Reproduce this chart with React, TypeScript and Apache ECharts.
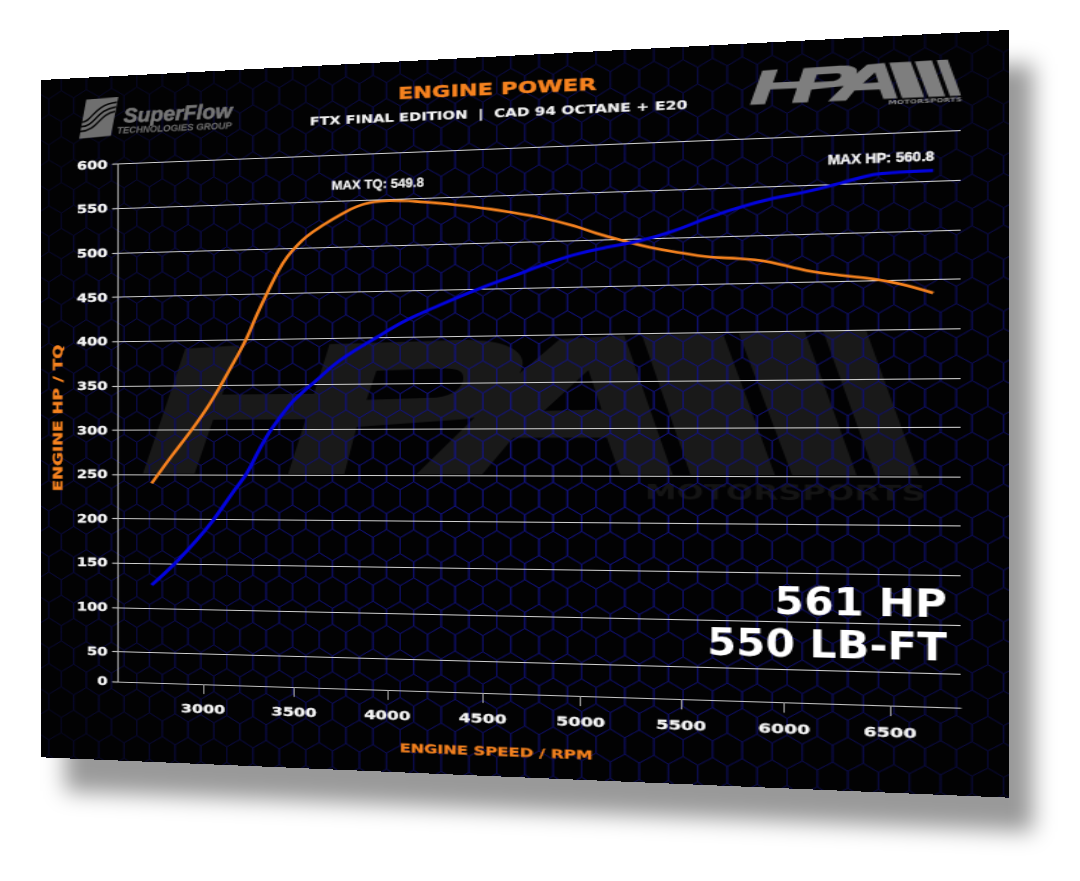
import React, { useEffect, useRef } from "react";
import * as echarts from "echarts";

const rpmTq = [2712,2825,2943,3021,3094,3168,3242,3297,3352,3415,3465,3515,3569,3659,3749,3838,3927,4015,4191,4366,4538,4658,4795,4963,5081,5214,5347,5495,5626,5788,5900,6028,6139,6266,6422,6547,6701];
const torque = [240.1,270.7,301.7,323.9,347.8,374,401.5,426.8,450,475,490.5,502,512,524.2,534.6,543.1,547.6,548.3,545.8,541.5,535.9,531.1,525.2,515.4,506.6,498,490.2,483.8,478.9,476,473,466.4,460.7,456.4,451.8,446.2,436.3];
const rpmHp = [2712,2834,2965,3057,3168,3242,3315,3379,3479,3545,3614,3749,3953,4104,4278,4486,4658,4795,4963,5131,5297,5462,5626,5788,5948,6108,6266,6422,6547,6701];
const power = [125.8,148.7,177,199.5,231.1,251.5,279.3,300.8,327.5,340.5,352.5,375.5,401,418.3,433.9,451,463.4,473.4,484.2,491.5,497.5,506.7,519,529.4,537.6,543.4,550.9,558.5,560.2,560.8];
const xTicks = [3000,3500,4000,4500,5000,5500,6000,6500];
const yTicks = [16.2,50,100,150,200,250,300,350,400,450,500,550,600];
const yTickLabels = ["0","50","100","150","200","250","300","350","400","450","500","550","600"];

const W = 700, H = 720;
// the sheet's corners on the page
const TL = [41, 80], TR = [1009, 30], BR = [1009, 797.7], BL = [41, 757.3];
const onePlusG = (BL[1] - TL[1]) / (BR[1] - TR[1]);
const g = onePlusG - 1;
const a = TR[0] * onePlusG - TL[0];
const d = TR[1] * onePlusG - TL[1];
const e = BL[1] - TL[1];
const matrix = [a / W, d / W, 0, g / W, 0, e / H, 0, 0, 0, 0, 1, 0, TL[0], TL[1], 0, 1];
const toSrc = (x: number, y: number) => {
  const s = (x - TL[0]) / (a - g * x);
  const w = 1 + g * s;
  return [s * W, ((y * w - TL[1] - d * s) / e) * H];
};

const LOGO_D =
  "M25 462L115 62L228 55L193 210L383 210L415 55L680 48C770 48 820 90 790 160C770 230 740 280 690 292L470 315L445 462L330 462L366 290L174 290L135 462Z" +
  "M510 140L490 230L630 225C670 220 690 180 680 150C675 138 660 135 640 135Z" +
  "M590 462L795 150L870 50L993 42L1084 462L985 462L960 350L780 350L720 462Z" +
  "M925 145L840 268L950 265Z" +
  "M1026 40L1177 40L1272 462L1117 462Z" +
  "M1206 40L1326 38L1419 462L1303 462Z" +
  "M1359 38L1436 38L1529 462L1452 462Z";
const SF_BOX = "M50 32L148 28L125 145L28 150Z";
const SF_LINES =
  "M36 100C70 100 70 50 144 44M34 114C78 114 80 64 141 58M31 128C86 128 88 78 138 72";

const hexPath = () => {
  const hw = 20.3, R = 16.2, pitch = R * 1.5;
  const [ax, ay] = toSrc(581.7, 335);
  let p = "";
  for (let r = -32; r < 34; r++) {
    const cy = ay + R + r * pitch;
    if (cy < -R * 2 || cy > H + R * 2) continue;
    const off = ((r % 2) + 2) % 2 ? hw / 2 : 0;
    for (let c = -40; c < 40; c++) {
      const cx = ax + c * hw + off;
      if (cx < -hw || cx > W + hw) continue;
      p += `M${cx.toFixed(1)} ${(cy - R).toFixed(1)}L${(cx + hw / 2).toFixed(1)} ${(cy - R / 2).toFixed(1)}L${(cx + hw / 2).toFixed(1)} ${(cy + R / 2).toFixed(1)}L${cx.toFixed(1)} ${(cy + R).toFixed(1)}L${(cx - hw / 2).toFixed(1)} ${(cy + R / 2).toFixed(1)}L${(cx - hw / 2).toFixed(1)} ${(cy - R / 2).toFixed(1)}Z`;
    }
  }
  return p;
};

echarts.graphic.registerShape("hpaLogo", echarts.graphic.extendPath(LOGO_D, {}) as any);
echarts.graphic.registerShape("sfBox", echarts.graphic.extendPath(SF_BOX, {}) as any);
echarts.graphic.registerShape("sfLines", echarts.graphic.extendPath(SF_LINES, {}) as any);
echarts.graphic.registerShape("hexMesh", echarts.graphic.extendPath(hexPath(), {}) as any);

const placeLogo = (bl: number[], br: number[], top: number[], z: number, fill: string) => {
  const p1 = toSrc(bl[0], bl[1]);
  const p2 = toSrc(br[0], br[1]);
  const p3 = toSrc(top[0], top[1]);
  const scaleX = (p2[0] - p1[0]) / 1504;
  const scaleY = (p1[1] - p3[1]) / 424;
  const skewFree = (p2[1] + p1[1]) / 2;
  return {
    type: "hpaLogo", x: p1[0] - 25 * scaleX, y: skewFree - 462 * scaleY, scaleX, scaleY, z,
    style: { fill },
  };
};

const label = (text: string, sx: number, sy: number, font: string, fill: string, extra: any = {}, align = "center", bold = 0) => {
  const [x, y] = toSrc(sx, sy);
  return {
    type: "text", x, y, z: 20, ...extra,
    style: { text, font, fill, textAlign: align, textVerticalAlign: "middle", stroke: bold ? fill : undefined, lineWidth: bold },
  };
};

const sfPlace = (() => {
  const p = toSrc(70, 90);
  return { x: p[0], y: p[1], sx: 1 / 3 / 1.265, sy: 1 / 3 / 0.96 };
})();

const ORANGE = "#f5821f";
const EXT = '"DejaVu Sans"';

export default function App() {
  const ref = useRef<HTMLDivElement>(null);
  useEffect(() => {
    const chart = echarts.init(ref.current!, null, { renderer: "svg" });
    chart.setOption({
      animation: false,
      backgroundColor: "#020203",
      grid: { left: 62.7, right: 31, top: 92.6, bottom: 82.9, containLabel: false },
      xAxis: {
        type: "value", min: 2523, max: 6827,
        axisLine: { show: true, lineStyle: { color: "#c4c4c4", width: 1.2 } },
        axisTick: { show: true, length: 10, customValues: xTicks, lineStyle: { color: "#9a9a9a", width: 1 } },
        axisLabel: {
          customValues: xTicks, color: "#f5f5f5", fontFamily: "DejaVu Sans", fontWeight: "bold", fontSize: 12.5, margin: 19,
          textBorderColor: "#f5f5f5", textBorderWidth: 0.3, formatter: (v: number) => String(v),
        },
        splitLine: { show: false },
      },
      yAxis: {
        type: "value", min: 16.2, max: 600,
        axisLine: { show: true, lineStyle: { color: "#a8a8a8", width: 1.2 } },
        axisTick: { show: true, length: 5, customValues: yTicks, lineStyle: { color: "#c8c8c8", width: 1.2 } },
        axisLabel: {
          customValues: yTicks, color: "#f5f5f5", fontFamily: "DejaVu Sans", fontWeight: "bold", fontSize: 12, margin: 8.5,
          textBorderColor: "#f5f5f5", textBorderWidth: 0.3,
          formatter: (v: number) => yTickLabels[yTicks.indexOf(v)] ?? String(v),
        },
        splitLine: { show: true, lineStyle: { color: "#d2d2d2", width: 1.2 } },
      },
      series: [
        {
          name: "Torque", type: "line", smooth: 0.4, showSymbol: false, z: 5,
          lineStyle: { color: ORANGE, width: 2.6 },
          data: rpmTq.map((r, i) => [r, torque[i]]),
        },
        {
          name: "Power", type: "line", smooth: 0.4, showSymbol: false, z: 6,
          lineStyle: { color: "#0303dc", width: 3 },
          data: rpmHp.map((r, i) => [r, power[i]]),
        },
      ],
      graphic: {
        elements: [
          placeLogo([143, 474], [920, 475], [870, 331], -3, "#191919"),
          label("MOTORSPORTS", 783, 492.5, `bold 17px ${EXT}`, "#141414", { z: -3, scaleX: 1.3, scaleY: 1.2 }),
          {
            type: "hexMesh", x: 0, y: 0, z: -2,
            style: {
              fill: "none", lineWidth: 0.75,
              stroke: new echarts.graphic.RadialGradient(0.55, 0.55, 0.62, [
                { offset: 0, color: "#141492" },
                { offset: 0.55, color: "#0e0e68" },
                { offset: 1, color: "#070724" },
              ]),
            },
          },
          placeLogo([750, 105], [961.7, 95], [948, 60], 10, "#7e7e7e"),
          label("MOTORSPORTS", 925, 100.5, `bold 5.5px ${EXT}`, "#8a8a8a", { scaleX: 1.02 }),
          { type: "sfBox", x: sfPlace.x, y: sfPlace.y, scaleX: sfPlace.sx, scaleY: sfPlace.sy, z: 10, style: { fill: "#6f6f6f" } },
          { type: "sfLines", x: sfPlace.x, y: sfPlace.y, scaleX: sfPlace.sx, scaleY: sfPlace.sy, z: 11, style: { fill: "none", stroke: "#050505", lineWidth: 5 } },
          label("SuperFlow", 177.5, 113, 'italic bold 21px "Liberation Sans"', "#767676", { scaleX: 0.8 }, "center", 0.7),
          label("TECHNOLOGIES GROUP", 174, 128, 'italic bold 9.5px "Liberation Sans"', "#6a6a6a", { scaleX: 0.8 }, "center", 0.2),
          label("ENGINE POWER", 496, 89, `bold 16.5px ${EXT}`, ORANGE, {}, "center", 0.4),
          label("FTX FINAL EDITION  |  CAD 94 OCTANE + E20", 494, 113.5, `bold 11.5px ${EXT}`, "#f5f5f5", { scaleX: 0.953 }, "center", 0.25),
          label("MAX TQ: 549.8", 377.5, 184, 'bold 13px "Liberation Sans"', "#f8f8f8", { scaleX: 0.76 }, "center", 0.35),
          label("MAX HP: 560.8", 880.5, 157.7, 'bold 13px "Liberation Sans"', "#f8f8f8", { scaleX: 0.77 }, "center", 0.35),
          label("561 HP", 947, 603.5, `bold 36.5px ${EXT}`, "#ffffff", { scaleX: 0.78 }, "right"),
          label("550 LB-FT", 947, 647, `bold 36.5px ${EXT}`, "#ffffff", { scaleX: 0.78 }, "right"),
          label("ENGINE HP / TQ", 58, 418, `bold 11px ${EXT}`, ORANGE, { rotation: Math.PI / 2, scaleX: 1.62, scaleY: 0.95 }, "center", 0.3),
          label("ENGINE SPEED / RPM", 495, 751.5, `bold 12px ${EXT}`, ORANGE, { scaleX: 0.99 }, "center", 0.3),
        ],
      },
    });
    return () => chart.dispose();
  }, []);

  const shadowPts = [TL, TR, BR, BL].map((p) => `${p[0] + 24}px ${p[1] + 34}px`).join(",");
  return (
    <div style={{ position: "absolute", left: 0, top: 0, width: 1080, height: 881, overflow: "hidden", background: "#fff" }}>
      <div style={{ position: "absolute", inset: 0, filter: "blur(11px)" }}>
        <div style={{ position: "absolute", inset: 0, background: "rgba(0,0,0,0.4)", clipPath: `polygon(${shadowPts})` }} />
      </div>
      <div
        ref={ref}
        style={{
          position: "absolute", left: 0, top: 0, width: W, height: H, overflow: "hidden",
          transformOrigin: "0 0", transform: `matrix3d(${matrix.join(",")})`,
        }}
      />
    </div>
  );
}
